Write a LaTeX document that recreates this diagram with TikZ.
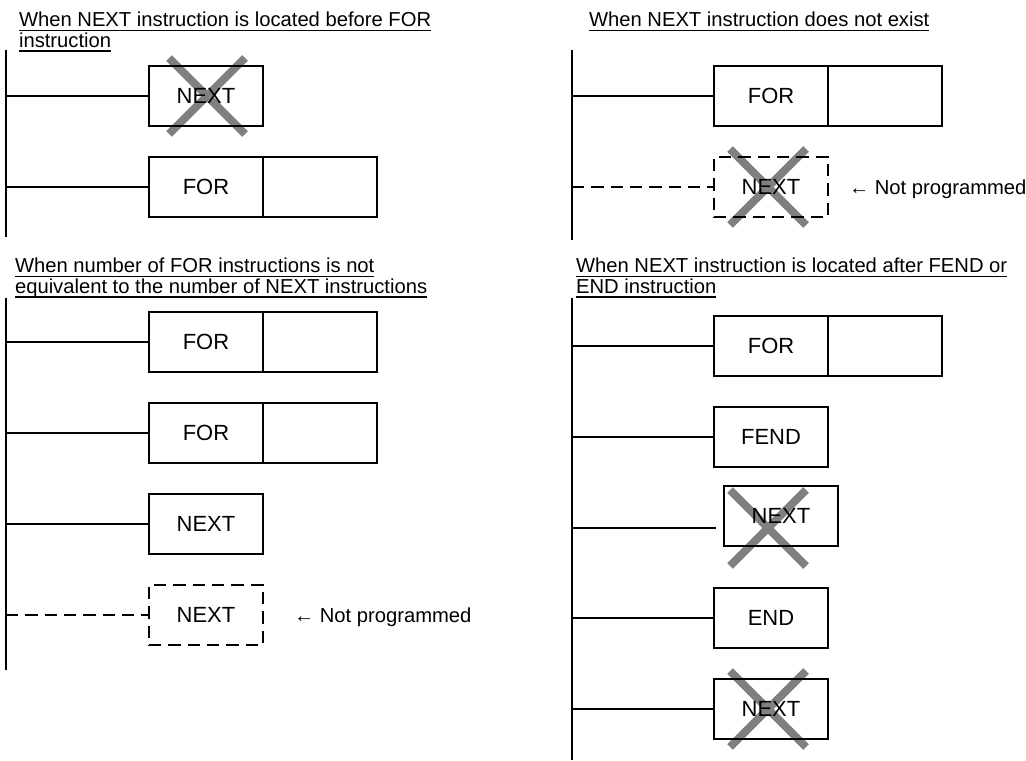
\documentclass[tikz,border=0pt]{standalone}
\usepackage{fontspec}
\setmainfont{Liberation Sans}
\usetikzlibrary{positioning}

\newcommand\ulhead[1]{\setbox0\hbox{#1}\rlap{\rule[-2.4pt]{\wd0}{0.7pt}}\box0}

\begin{document}
\begin{tikzpicture}[x=0.02cm, y=-0.02cm, font=\fontsize{11.5}{11.8}\selectfont, line width=1.2pt,
    ibox/.style={draw, minimum width=2.28cm, minimum height=1.2cm, inner sep=0pt, outer sep=0pt,
      font=\fontsize{12.5}{13}\selectfont},
    nobox/.style={ibox, dash pattern=on 7pt off 4pt},
    casetitle/.style={anchor=north west, inner sep=0pt, align=left},
    note/.style={inner sep=0pt, text depth=0pt},
    xmark/.style={draw=gray, line width=4.6pt}]
  \useasboundingbox (0,0) rectangle (1026,760);

  % crosses first, boxes go on top
  \draw[xmark] (169,58) -- (245,134) (169,134) -- (245,58);
  \draw[xmark] (730,149) -- (806,225) (730,225) -- (806,149);
  \draw[xmark] (730,490) -- (806,566) (730,566) -- (806,490);
  \draw[xmark] (730,671) -- (806,747) (730,747) -- (806,671);

  % NEXT before FOR
  \node[casetitle] (t1) at (18,11) {\ulhead{When NEXT instruction is located before FOR}\\\ulhead{instruction}};
  \coordinate (r1a) at (6,50);
  \coordinate (r1b) at (6,237);
  \draw (r1a) -- (r1b);
  \node[ibox] (n1) at (206,96) {NEXT};
  \node[ibox] (f1) at (206,187) {FOR};
  \node[ibox, right=0pt of f1] (o1) {};
  \draw (r1a |- n1) -- (n1);
  \draw (r1a |- f1) -- (f1);

  % NEXT missing
  \node[casetitle] (t2) at (588,11) {\ulhead{When NEXT instruction does not exist}};
  \coordinate (r2a) at (572,50);
  \coordinate (r2b) at (572,240);
  \draw (r2a) -- (r2b);
  \node[ibox] (f2) at (771,96) {FOR};
  \node[ibox, right=0pt of f2] (o2) {};
  \node[nobox] (n2) at (771,187) {NEXT};
  \node[note, right=0.4cm of n2] (np1) {← Not programmed};
  \draw (r2a |- f2) -- (f2);
  \draw[dash pattern=on 7pt off 4pt] (r2a |- n2) -- (n2);

  % FOR and NEXT count differ
  \node[casetitle] (t3) at (14,257) {\ulhead{When number of FOR instructions is not}\\\ulhead{equivalent to the number of NEXT instructions}};
  \coordinate (r3a) at (6,298);
  \coordinate (r3b) at (6,670);
  \draw (r3a) -- (r3b);
  \node[ibox] (f3) at (206,342) {FOR};
  \node[ibox, right=0pt of f3] (o3) {};
  \node[ibox] (f4) at (206,433) {FOR};
  \node[ibox, right=0pt of f4] (o4) {};
  \node[ibox] (n3) at (206,524) {NEXT};
  \node[nobox] (n4) at (206,615) {NEXT};
  \node[note, right=0.6cm of n4] (np2) {← Not programmed};
  \draw (r3a |- f3) -- (f3);
  \draw (r3a |- f4) -- (f4);
  \draw (r3a |- n3) -- (n3);
  \draw[dash pattern=on 7pt off 4pt] (r3a |- n4) -- (n4);

  % NEXT after FEND/END
  \node[casetitle] (t4) at (575,257) {\ulhead{When NEXT instruction is located after FEND or}\\\ulhead{END instruction}};
  \coordinate (r4a) at (572,298);
  \coordinate (r4b) at (572,760);
  \draw (r4a) -- (r4b);
  \node[ibox] (f5) at (771,346) {FOR};
  \node[ibox, right=0pt of f5] (o5) {};
  \node[ibox] (fe) at (771,437) {FEND};
  \node[ibox] (n5) at (781,516) {NEXT};
  \coordinate (n5in) at (716,528);
  \node[ibox] (en) at (771,618) {END};
  \node[ibox] (n6) at (771,709) {NEXT};
  \draw (r4a |- f5) -- (f5);
  \draw (r4a |- fe) -- (fe);
  \draw (r4a |- n5in) -- (n5in);
  \draw (r4a |- en) -- (en);
  \draw (r4a |- n6) -- (n6);
\end{tikzpicture}
\end{document}
